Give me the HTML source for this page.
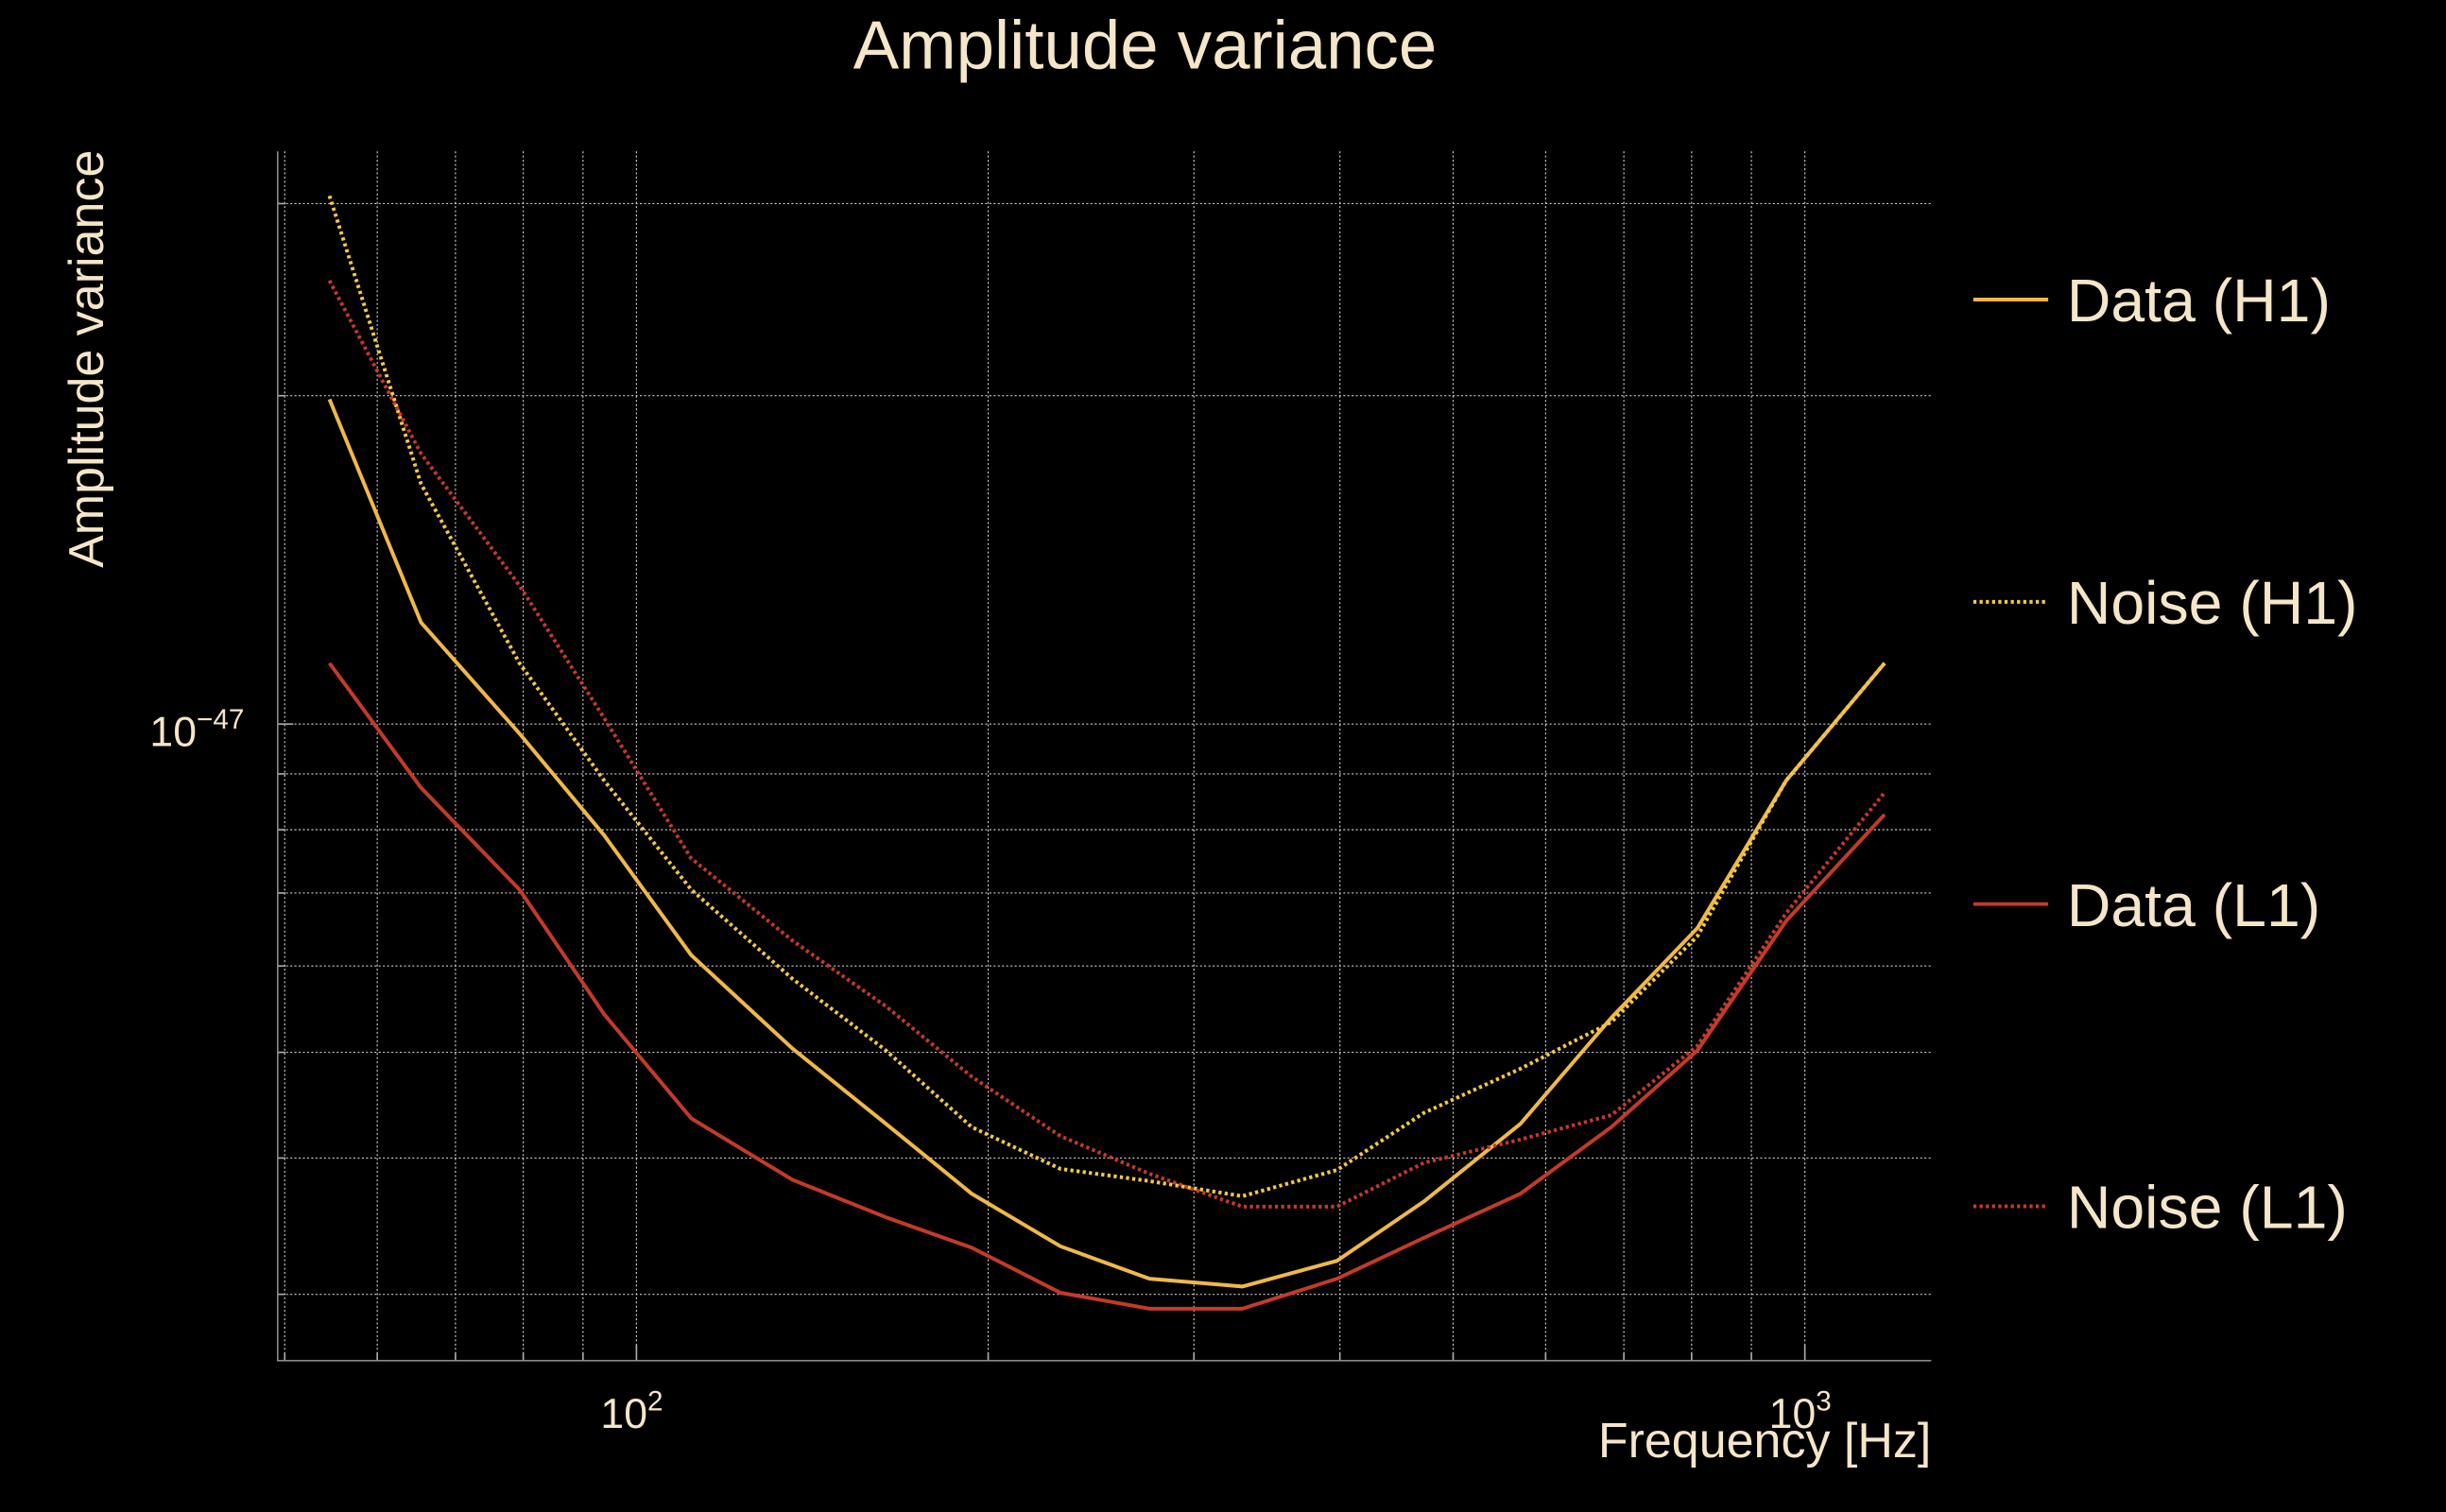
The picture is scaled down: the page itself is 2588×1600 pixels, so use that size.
<!DOCTYPE html>
<html><head><meta charset="utf-8">
<style>
html,body{margin:0;padding:0;background:#000;}
svg{display:block;}
text{font-family:"Liberation Sans",sans-serif;fill:#f5e6c8;}
</style></head>
<body>
<svg id="chart" width="2588" height="1600" viewBox="0 0 1568 969" preserveAspectRatio="none" xmlns="http://www.w3.org/2000/svg">
<rect width="1568" height="969" fill="#000"/>
<g id="grid"></g>
<g id="series"></g>
<g id="axes"></g>
<text x="734" y="44" font-size="44" text-anchor="middle">Amplitude variance</text>
<text transform="translate(66,230) rotate(-90)" font-size="31.5" text-anchor="middle">Amplitude variance</text>
<text x="1238" y="934" font-size="31.5" text-anchor="end">Frequency [Hz]</text>
<g id="legend"></g>
</svg>
<script>
const freqs=[54.6,65.4,79.4,93.8,111.4,136,163.5,193.6,230.6,274.8,330,397.7,472,571,683,809,964,1170];
const dataH1=[19.85,12.39,9.80,7.91,6.14,5.04,4.30,3.71,3.32,3.10,3.05,3.22,3.65,4.30,5.38,6.50,8.88,11.37];
const noiseH1=[30.5,16.6,11.37,8.88,7.05,5.84,5.02,4.27,3.91,3.81,3.69,3.90,4.40,4.83,5.33,6.39,8.88,11.37];
const dataL1=[11.37,8.74,7.05,5.42,4.35,3.82,3.53,3.31,3.01,2.91,2.91,3.10,3.38,3.71,4.27,5.02,6.60,8.26];
const noiseL1=[25.5,17.7,13.4,10.13,7.53,6.33,5.51,4.75,4.19,3.87,3.61,3.61,3.96,4.16,4.38,5.07,6.71,8.65];
const xGridVals=[50,60,70,80,90,100,200,300,400,500,600,700,800,900,1000];
const yGridVals=[3,4,5,6,7,8,9,10,20,30];
const seriesNames=["Data (H1)","Noise (H1)","Data (L1)","Noise (L1)"];
// values in units of 1e-48
const NS="http://www.w3.org/2000/svg";
const L=178,R=1238,T=97,B=872;
function xs(f){return 408+749*(Math.log10(f)-2);}
function ys(v){return 464-699*(Math.log10(v)-1);}
function mk(tag,attrs,parent){const e=document.createElementNS(NS,tag);for(const k in attrs)e.setAttribute(k,attrs[k]);parent.appendChild(e);return e;}
const grid=document.getElementById('grid'),axes=document.getElementById('axes'),ser=document.getElementById('series'),leg=document.getElementById('legend');
xGridVals.forEach(f=>{const x=xs(f);
 const g=mk('line',{x1:x,x2:x,y1:T,y2:B,stroke:'#cfcfcf','stroke-width':0.7,'stroke-dasharray':'1.2,1.5'},grid);
 
 
 const t=mk('line',{x1:x,x2:x,y1:B,y2:B-((f===100||f===1000)?10:5),stroke:'#aaa','stroke-width':1},axes);
 
 
});
yGridVals.forEach(v=>{const y=ys(v);
 const g=mk('line',{x1:L,x2:R,y1:y,y2:y,stroke:'#cfcfcf','stroke-width':0.7,'stroke-dasharray':'1.2,1.5'},grid);
 
 
 const t=mk('line',{x1:L,x2:L+(v===10?10:5),y1:y,y2:y,stroke:'#aaa','stroke-width':1},axes);
 
 
});
const sp=mk('path',{d:`M${L},${T}V${B}H${R}`,fill:'none',stroke:'#888','stroke-width':1},axes);


function tickLabel(x,y,base,exp,anchor,name){
 const t=mk('text',{x:x,y:y,'font-size':27,'text-anchor':anchor},axes);
 
 
 t.textContent=base;
 const s=mk('tspan',{dy:-11,'font-size':18},t);s.textContent=exp;
}
tickLabel(96,478,'10','−47','start','y-tick-label-1e-47');
tickLabel(385,915,'10','2','start','x-tick-label-100');
tickLabel(1134,915,'10','3','start','x-tick-label-1000');
const styles=[{c:'#f0b849',d:null},{c:'#f3c84a',d:'2,2'},{c:'#c43a28',d:null},{c:'#c43a28',d:'2,2'}];
const all=[dataH1,noiseH1,dataL1,noiseL1];
const ids=['data-h1-line','noise-h1-line','data-l1-line','noise-l1-line'];
all.forEach((arr,i)=>{
 const d=arr.map((v,j)=>(j?'L':'M')+xs(freqs[j]).toFixed(1)+','+ys(v).toFixed(1)).join('');
 const a={d:d,fill:'none',stroke:styles[i].c,'stroke-width':2.4,'stroke-linejoin':'round'};
 if(styles[i].d)a['stroke-dasharray']=styles[i].d;
 const p=mk('path',a,ser);
 
 
});
seriesNames.forEach((n,i)=>{
 const y=192+i*193.7;
 const a={x1:1265,x2:1313,y1:y,y2:y,stroke:styles[i].c,'stroke-width':2.4};
 if(styles[i].d)a['stroke-dasharray']=styles[i].d;
 const l=mk('line',a,leg);
 
 
 const t=mk('text',{x:1325,y:y+14,'font-size':39},leg);
 
 
 t.textContent=n;
});
</script>
</body></html>
